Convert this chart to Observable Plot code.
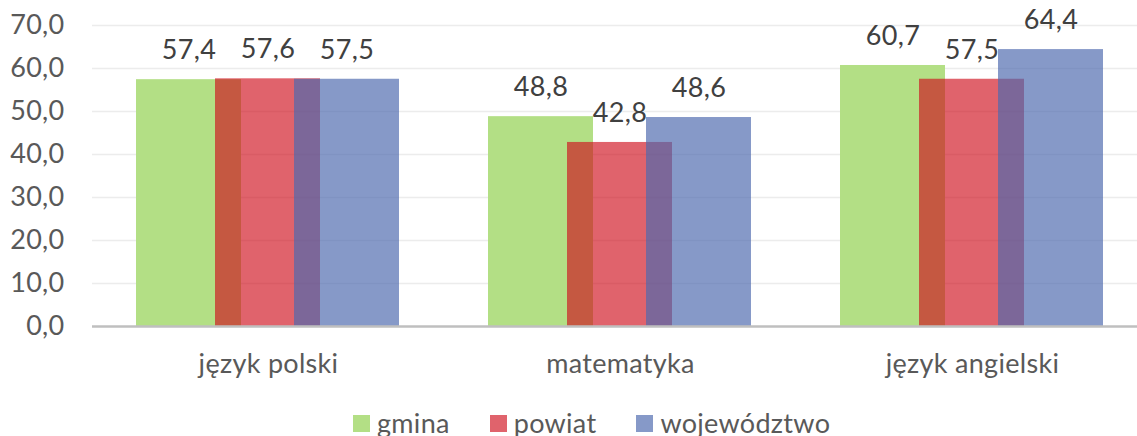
<!DOCTYPE html>
<html><head><meta charset="utf-8">
<script src="https://cdn.jsdelivr.net/npm/d3@7"></script>
<script src="https://cdn.jsdelivr.net/npm/@observablehq/plot@0.6"></script>
<style>
html,body{margin:0;padding:0;background:#fff;overflow:hidden;width:1137px;height:436px;}
#chart{position:relative;width:1137px;height:436px;overflow:hidden;}
#legend{position:absolute;left:353px;top:409px;}
#legend, #legend *{font-family:Lato, sans-serif !important;font-size:27px !important;color:#595959 !important;letter-spacing:0.3px;}
.lg-swatches{margin:0 !important;min-height:0 !important;display:flex !important;}
.lg-swatch{margin-right:40px !important;line-height:28px !important;display:inline-flex !important;align-items:center !important;}
.lg-swatch > svg{margin-right:7px !important;}
</style></head><body><div id="chart"><div id="plot"></div><div id="legend"></div></div>
<script>
const categories = ["język polski", "matematyka", "język angielski"];
const series = ["gmina", "powiat", "województwo"];
const gmina = [57.4, 48.8, 60.7];
const powiat = [57.6, 42.8, 57.5];
const wojewodztwo = [57.5, 48.6, 64.4];
const yTicks = [0, 10, 20, 30, 40, 50, 60, 70];
const colors = ["rgb(179,223,133)", "rgba(207,16,29,0.65)", "rgba(76,105,174,0.68)"];

const seriesValues = [gmina, powiat, wojewodztwo];
const rows = categories.flatMap((c, i) => series.map((s, j) => ({category: c, series: s, value: seriesValues[j][i]})));
const fmt = v => v.toFixed(1).replace(".", ",");

const plot = Plot.plot({
  width: 1137, height: 400,
  marginLeft: 91, marginRight: -11, marginTop: 25, marginBottom: 74,
  style: {fontFamily: "Lato, sans-serif", fontSize: "27px", color: "#595959", background: "#fff", overflow: "hidden", letterSpacing: "0.3px"},
  fx: {domain: categories, padding: 0, axis: "bottom", tickSize: 0, tickPadding: 27, label: null},
  x: {domain: series, paddingInner: -0.333, paddingOuter: 0.535, axis: null},
  y: {domain: [0, 70], ticks: yTicks, tickFormat: fmt, tickSize: 0, tickPadding: 28, label: null},
  color: {domain: series, range: colors},
  marks: [
    Plot.ruleY(yTicks.slice(1), {stroke: "#ececec", strokeWidth: 1.5}),
    Plot.barY(rows, {fx: "category", x: "series", y: "value", fill: "series", inset: 0}),
    Plot.ruleY([0], {stroke: "#bfbfbf", strokeWidth: 2.5}),
    Plot.text(rows, {fx: "category", x: "series", y: "value", text: d => fmt(d.value), dy: -29, fill: "#404040"})
  ]
});
document.getElementById("plot").appendChild(plot);

const legend = Plot.legend({
  color: {type: "ordinal", domain: series, range: colors},
  legend: "swatches", swatchSize: 17, className: "lg"
});
document.getElementById("legend").appendChild(legend);
</script>
</body></html>
